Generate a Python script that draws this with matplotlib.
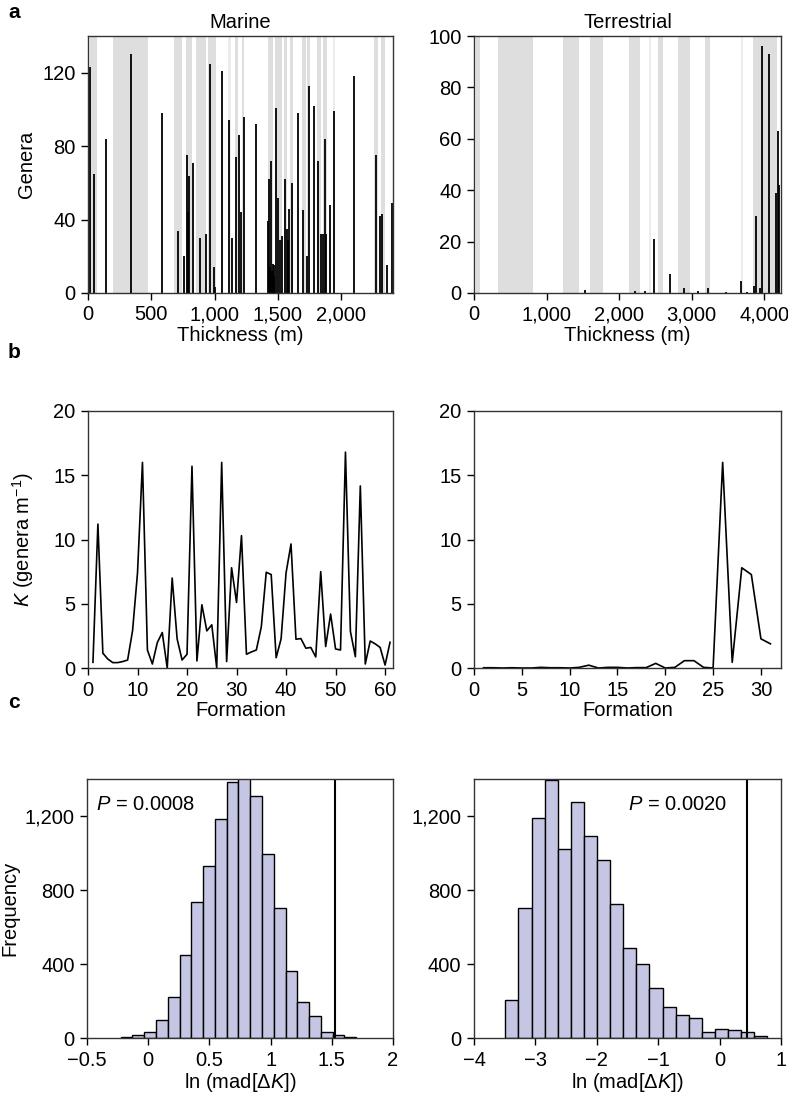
import matplotlib
matplotlib.use("Agg")
import matplotlib.pyplot as plt
from matplotlib.ticker import FuncFormatter
import numpy as np

plt.rcParams["font.family"] = ["Liberation Sans", "DejaVu Sans"]
plt.rcParams["mathtext.fontset"] = "custom"
plt.rcParams["mathtext.rm"] = "Liberation Sans"
plt.rcParams["mathtext.it"] = "Liberation Sans:italic"
plt.rcParams["font.size"] = 14.5

# ---- panel a: marine ----
marine_depth = [0, 16, 47, 140, 340, 582, 708, 758, 782, 793, 800, 827, 887, 932, 964,
                995, 1000, 1058, 1114, 1140, 1166, 1190, 1211, 1230, 1330, 1424, 1432,
                1436, 1440, 1443, 1447, 1450, 1455, 1459, 1462, 1466, 1469, 1473, 1485,
                1501, 1517, 1530, 1556, 1569, 1580, 1590, 1612, 1656, 1701, 1727, 1745,
                1784, 1821, 1839, 1859, 1875, 1880, 1915, 1943, 2104, 2278, 2307, 2325,
                2364, 2404]
marine_genera = [6, 123, 65, 84, 130, 98, 34, 20, 75, 44, 64, 71, 30, 32, 125,
                 14, 3, 121, 94, 30, 74, 86, 44, 96, 92, 39, 62,
                 14, 10, 72, 8, 12, 6, 10, 16, 9, 15, 5, 101,
                 52, 29, 31, 62, 35, 29, 46, 60, 98, 45, 20, 113,
                 102, 72, 32, 32, 84, 32, 48, 99, 118, 75, 42, 43,
                 15, 49]
marine_bands = [(16, 73), (200, 476), (682, 740), (774, 819), (853, 932), (950, 1009),
                (1161, 1182), (1214, 1235), (1424, 1464), (1477, 1530), (1548, 1574),
                (1596, 1622), (1688, 1722), (1730, 1753), (1811, 1838), (1854, 1886),
                (2259, 2293), (2314, 2346)]
marine_light_bands = [(1108, 1127), (1938, 1951)]

# ---- panel a: terrestrial ----
terr_depth = [1526, 2216, 2354, 2487, 2703, 2887, 3080, 3218, 3466, 3683, 3761, 3862,
              3890, 3945, 3972, 4069, 4166, 4184, 4203]
terr_genera = [1, 0.8, 0.9, 21, 7.3, 2.1, 0.9, 2.1, 0.4, 4.5, 0.3, 2.9,
               30, 2.1, 96, 93, 39, 63, 42]
terr_bands = [(23, 83), (336, 818), (1223, 1453), (1600, 1784), (2129, 2290),
              (2533, 2611), (2805, 2979), (3186, 3246), (3839, 4170)]
terr_light_bands = [(2405, 2437), (3678, 3706)]

# ---- panel b ----
marine_k = [0.44, 11.2, 1.15, 0.7, 0.42, 0.42, 0.5, 0.62, 2.9, 7.4,
            16.0, 1.4, 0.31, 1.98, 2.76, 0.0, 7.0, 2.27, 0.62, 1.07,
            15.7, 0.55, 4.92, 2.89, 3.36, 0.0, 16.0, 0.5, 7.8, 5.1,
            10.3, 1.07, 1.25, 1.4, 3.2, 7.45, 7.27, 0.8, 2.27, 7.4,
            9.65, 2.24, 2.29, 1.54, 1.6, 0.86, 7.5, 1.67, 4.2, 1.48,
            1.4, 16.8, 2.84, 0.88, 14.17, 0.31, 2.1, 1.88, 1.6, 0.23, 2.0]
terr_k = [0.02, 0.02, 0.0, 0.02, 0.0, 0.0, 0.05, 0.02, 0.02, 0.0,
          0.05, 0.22, 0.0, 0.05, 0.05, 0.0, 0.03, 0.03, 0.36, 0.0,
          0.05, 0.57, 0.57, 0.05, 0.0, 16.0, 0.44, 7.8, 7.27, 2.27, 1.88]
marine_formation = np.arange(1, len(marine_k) + 1)
terr_formation = np.arange(1, len(terr_k) + 1)

# ---- panel c ----
marine_counts = [5, 18, 35, 100, 224, 450, 737, 931, 1185, 1385,
                 1430, 1306, 996, 704, 361, 196, 120, 35, 15, 5]
marine_bin_start, marine_bin_width = -0.225, 0.0962
marine_obs = 1.53
terr_counts = [204, 704, 1189, 1393, 1020, 1276, 1093, 963, 726, 487,
               400, 269, 170, 126, 107, 33, 48, 43, 31, 11]
terr_bin_start, terr_bin_width = -3.489, 0.2133
terr_obs = 0.45

comma = FuncFormatter(lambda v, p: f"{v:,.0f}")
minus = FuncFormatter(lambda v, p: f"{v:g}".replace("-", "\u2212"))
W, H = 788, 1100


def box(px_left, px_top, px_right, px_bottom):
    return [px_left / W, 1 - px_bottom / H, (px_right - px_left) / W, (px_bottom - px_top) / H]


def style(ax):
    ax.tick_params(direction="out", length=5, width=1, labelsize=14.5,
                   top=False, right=False)
    ax.tick_params(axis="x", pad=4)
    ax.tick_params(axis="y", pad=4)
    for s in ax.spines.values():
        s.set_linewidth(1)
        s.set_color("#333333")


fig = plt.figure(figsize=(7.88, 11), dpi=100)

# a
ax = fig.add_axes(box(88, 36, 393, 293))
for a, b in marine_bands:
    ax.axvspan(a, b, color="#dedede", lw=0)
for a, b in marine_light_bands:
    ax.axvspan(a, b, color="#ececec", lw=0)
ax.vlines(marine_depth, 0, marine_genera, color="black", lw=1.3)
ax.set_xlim(0, 2410)
ax.set_ylim(0, 140)
ax.set_xticks([0, 500, 1000, 1500, 2000])
ax.set_yticks([0, 40, 80, 120])
ax.xaxis.set_major_formatter(comma)
ax.set_title("Marine", fontsize=14.5, pad=6)
ax.set_xlabel("Thickness (m)", labelpad=1)
ax.set_ylabel("Genera")
ax.yaxis.set_label_coords(-0.17, 0.5)
style(ax)

ax = fig.add_axes(box(474, 36, 781, 293))
for a, b in terr_bands:
    ax.axvspan(a, b, color="#dedede", lw=0)
for a, b in terr_light_bands:
    ax.axvspan(a, b, color="#ececec", lw=0)
ax.vlines(terr_depth, 0, terr_genera, color="black", lw=1.3)
ax.set_xlim(0, 4230)
ax.set_ylim(0, 100)
ax.set_xticks([0, 1000, 2000, 3000, 4000])
ax.set_yticks([0, 20, 40, 60, 80, 100])
ax.xaxis.set_major_formatter(comma)
ax.set_title("Terrestrial", fontsize=14.5, pad=6)
ax.set_xlabel("Thickness (m)", labelpad=1)
style(ax)

# b
ax = fig.add_axes(box(88, 411, 393, 668))
ax.plot(marine_formation, marine_k, color="black", lw=1.2)
ax.set_xlim(0, 61.6)
ax.set_ylim(0, 20)
ax.set_xticks(range(0, 61, 10))
ax.set_yticks(range(0, 21, 5))
ax.set_xlabel("Formation", labelpad=1)
ax.set_ylabel("$K$ (genera m$^{-1}$)")
ax.yaxis.set_label_coords(-0.17, 0.5)
style(ax)

ax = fig.add_axes(box(474, 411, 781, 668))
ax.plot(terr_formation, terr_k, color="black", lw=1.2)
ax.set_xlim(0, 32.1)
ax.set_ylim(0, 20)
ax.set_xticks(range(0, 31, 5))
ax.set_yticks(range(0, 21, 5))
ax.set_xlabel("Formation", labelpad=1)
style(ax)

# c
ax = fig.add_axes(box(87, 779, 393, 1038))
edges = marine_bin_start + marine_bin_width * np.arange(len(marine_counts))
ax.bar(edges, marine_counts, width=marine_bin_width, align="edge",
       color="#c5c5e4", edgecolor="black", lw=1)
ax.axvline(marine_obs, color="black", lw=1.5)
ax.set_xlim(-0.5, 2)
ax.set_ylim(0, 1400)
ax.set_xticks([-0.5, 0, 0.5, 1, 1.5, 2])
ax.xaxis.set_major_formatter(minus)
ax.set_yticks([0, 400, 800, 1200])
ax.yaxis.set_major_formatter(comma)
ax.text(0.03, 0.9, "$P$ = 0.0008", transform=ax.transAxes, fontsize=14.5, va="center")
ax.set_xlabel("ln (mad[Δ$K$])", labelpad=1)
ax.set_ylabel("Frequency")
ax.yaxis.set_label_coords(-0.22, 0.5)
style(ax)

ax = fig.add_axes(box(474, 779, 781, 1038))
edges = terr_bin_start + terr_bin_width * np.arange(len(terr_counts))
ax.bar(edges, terr_counts, width=terr_bin_width, align="edge",
       color="#c5c5e4", edgecolor="black", lw=1)
ax.axvline(terr_obs, color="black", lw=1.5)
ax.set_xlim(-4, 1)
ax.set_ylim(0, 1400)
ax.set_xticks([-4, -3, -2, -1, 0, 1])
ax.xaxis.set_major_formatter(minus)
ax.set_yticks([0, 400, 800, 1200])
ax.yaxis.set_major_formatter(comma)
ax.text(0.5, 0.9, "$P$ = 0.0020", transform=ax.transAxes, fontsize=14.5, va="center")
ax.set_xlabel("ln (mad[Δ$K$])", labelpad=1)
style(ax)

# panel letters
for letter, y in [("a", 12), ("b", 352), ("c", 702)]:
    fig.text(8 / W, 1 - y / H, letter, fontsize=15, fontweight="bold", va="center")

fig.savefig("out.png", dpi=100)
